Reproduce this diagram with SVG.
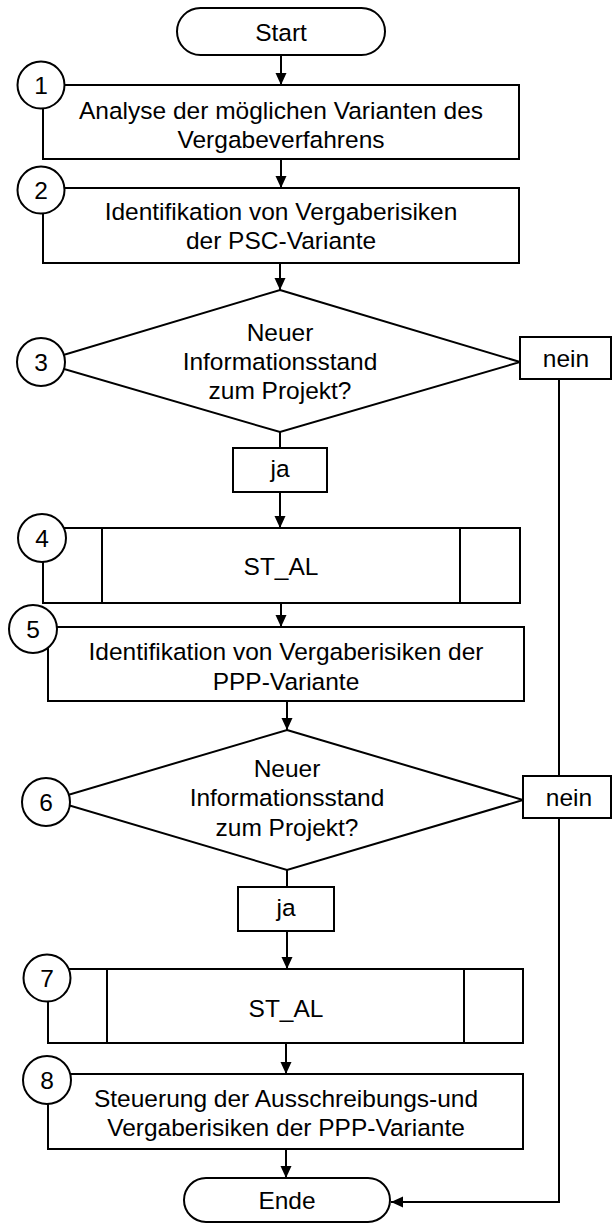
<svg xmlns="http://www.w3.org/2000/svg" width="612" height="1223" viewBox="0 0 612 1223">
<style>
.s{fill:#fff;stroke:#000;stroke-width:2}
.t{font-family:"Liberation Sans",Arial,sans-serif;font-size:24.5px;fill:#000;text-anchor:middle}
.c{fill:none;stroke:#000;stroke-width:2}
</style>
<defs>
<marker id="ah" markerUnits="userSpaceOnUse" markerWidth="12" markerHeight="12" refX="12" refY="6" orient="auto">
<path d="M0,0.5 L12,6 L0,11.5 z" fill="#000"/>
</marker>
</defs>
<rect width="612" height="1223" fill="#fff"/>
<g id="connectors">
<line class="c" x1="281" y1="55" x2="281" y2="85" marker-end="url(#ah)"/>
<line class="c" x1="281" y1="159" x2="281" y2="188" marker-end="url(#ah)"/>
<line class="c" x1="280" y1="263" x2="280" y2="290" marker-end="url(#ah)"/>
<line class="c" x1="280" y1="432" x2="280" y2="448"/>
<line class="c" x1="280" y1="492" x2="280" y2="528" marker-end="url(#ah)"/>
<line class="c" x1="281" y1="603" x2="281" y2="627" marker-end="url(#ah)"/>
<line class="c" x1="287" y1="701" x2="287" y2="730" marker-end="url(#ah)"/>
<line class="c" x1="287" y1="870" x2="287" y2="887"/>
<line class="c" x1="287" y1="931" x2="287" y2="969" marker-end="url(#ah)"/>
<line class="c" x1="286" y1="1043" x2="286" y2="1074" marker-end="url(#ah)"/>
<line class="c" x1="286" y1="1149" x2="286" y2="1178" marker-end="url(#ah)"/>
<line class="c" x1="559" y1="379" x2="559" y2="776"/>
<polyline class="c" points="559,818 559,1202 391,1202" marker-end="url(#ah)"/>
</g>
<g id="start"><rect class="s" x="177" y="8" width="208" height="47" rx="23.5"/><text class="t" x="281" y="40.5">Start</text></g>
<g id="n1"><rect class="s" x="43" y="85" width="476" height="74"/><text class="t" x="281" y="118.5">Analyse der möglichen Varianten des</text><text class="t" x="281" y="147.5">Vergabeverfahrens</text><circle class="s" cx="41" cy="85" r="23.5"/><text class="t" x="41" y="93.5">1</text></g>
<g id="n2"><rect class="s" x="43" y="188" width="476" height="75"/><text class="t" x="281" y="220">Identifikation von Vergaberisiken</text><text class="t" x="281" y="249">der PSC-Variante</text><circle class="s" cx="41" cy="190" r="23.5"/><text class="t" x="41" y="198.5">2</text></g>
<g id="n3"><polygon class="s" points="280,290 520,362 280,432 40,362"/><text class="t" x="280" y="341">Neuer</text><text class="t" x="280" y="370">Informationsstand</text><text class="t" x="280" y="399">zum Projekt?</text><circle class="s" cx="41" cy="362" r="24"/><text class="t" x="41" y="370.5">3</text></g>
<g id="nein3"><rect class="s" x="520" y="337" width="91" height="42"/><text class="t" x="566" y="366.5">nein</text></g>
<g id="ja3"><rect class="s" x="233" y="448" width="94" height="44"/><text class="t" x="280" y="477">ja</text></g>
<g id="n4"><rect class="s" x="43" y="528" width="477" height="75"/><line class="c" x1="102" y1="528" x2="102" y2="603"/><line class="c" x1="460" y1="528" x2="460" y2="603"/><text class="t" x="281" y="575">ST_AL</text><circle class="s" cx="42" cy="538" r="24"/><text class="t" x="42" y="546.5">4</text></g>
<g id="n5"><rect class="s" x="48" y="627" width="476" height="74"/><text class="t" x="286" y="660">Identifikation von Vergaberisiken der</text><text class="t" x="286" y="690">PPP-Variante</text><circle class="s" cx="33" cy="629" r="24"/><text class="t" x="33" y="637.5">5</text></g>
<g id="n6"><polygon class="s" points="287,730 523,800 287,870 51,800"/><text class="t" x="287" y="777">Neuer</text><text class="t" x="287" y="806">Informationsstand</text><text class="t" x="287" y="836">zum Projekt?</text><circle class="s" cx="46" cy="802" r="24"/><text class="t" x="46" y="810.5">6</text></g>
<g id="nein6"><rect class="s" x="523" y="776" width="88" height="42"/><text class="t" x="569" y="805.5">nein</text></g>
<g id="ja6"><rect class="s" x="238" y="887" width="96" height="44"/><text class="t" x="286" y="916">ja</text></g>
<g id="n7"><rect class="s" x="48" y="969" width="475" height="74"/><line class="c" x1="107" y1="969" x2="107" y2="1043"/><line class="c" x1="464" y1="969" x2="464" y2="1043"/><text class="t" x="286" y="1017">ST_AL</text><circle class="s" cx="47" cy="978" r="23.5"/><text class="t" x="47" y="986.5">7</text></g>
<g id="n8"><rect class="s" x="48" y="1074" width="475" height="75"/><text class="t" x="286" y="1107">Steuerung der Ausschreibungs-und</text><text class="t" x="286" y="1136">Vergaberisiken der PPP-Variante</text><circle class="s" cx="47" cy="1080" r="24"/><text class="t" x="47" y="1088.5">8</text></g>
<g id="ende"><rect class="s" x="184" y="1178" width="206" height="44" rx="22"/><text class="t" x="287" y="1209">Ende</text></g>
</svg>
